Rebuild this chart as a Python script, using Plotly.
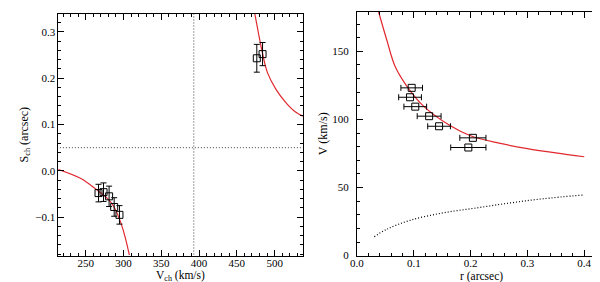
import plotly.graph_objects as go

# ---- Left panel data ----
v_ch = [267, 273.6, 281, 287.7, 294.7, 476.4, 484]
s_ch = [-0.048, -0.046, -0.055, -0.078, -0.095, 0.243, 0.252]
s_err = [0.019, 0.02, 0.022, 0.02, 0.02, 0.03, 0.025]

model_low_v = [212.3, 243, 264.8, 278, 286.8, 295.6, 302.2, 307.8]
model_low_s = [0.004, -0.016, -0.041, -0.0585, -0.076, -0.108, -0.143, -0.182]
model_up_v = [473.8, 478.6, 483.9, 490.5, 501.4, 514.5, 527.7, 538.7]
model_up_s = [0.339, 0.297, 0.254, 0.212, 0.177, 0.148, 0.127, 0.117]

v_sys = 393
s_zero = 0.05

# ---- Right panel data ----
r_pts = [0.0963, 0.0934, 0.1026, 0.127, 0.1445, 0.204, 0.196]
v_pts = [123.2, 116.3, 109.4, 102.4, 95.0, 86.5, 79.4]
r_err = [0.019, 0.02, 0.02, 0.021, 0.02, 0.023, 0.031]

kep_r = [0.038, 0.0527, 0.0672, 0.0876, 0.1166, 0.163, 0.2, 0.25, 0.3, 0.35, 0.4]
kep_v = [179.1, 158, 138.8, 124.5, 110, 95.7, 88.0, 82.6, 78.6, 75.4, 72.6]

dot_r = [0.0305, 0.0527, 0.0934, 0.1515, 0.21, 0.268, 0.326, 0.4]
dot_v = [13.9, 19.4, 25.9, 31.4, 35.0, 38.6, 41.7, 44.6]

x_titles = ["V<sub>ch</sub> (km/s)", "r (arcsec)"]

RED = "#e0282e"
FONT = "Liberation Serif"
DOTS = "1px,2px"

fig = go.Figure()

# left panel
fig.add_trace(go.Scatter(x=[v_sys, v_sys], y=[-0.2, 0.36], mode="lines",
                         line=dict(color="#444", width=1, dash=DOTS),
                         xaxis="x", yaxis="y", showlegend=False))
fig.add_trace(go.Scatter(x=[200, 550], y=[s_zero, s_zero], mode="lines",
                         line=dict(color="#444", width=1, dash=DOTS),
                         xaxis="x", yaxis="y", showlegend=False))
fig.add_trace(go.Scatter(x=model_low_v, y=model_low_s, mode="lines",
                         line=dict(color=RED, width=1.2, shape="spline"),
                         xaxis="x", yaxis="y", showlegend=False))
fig.add_trace(go.Scatter(x=model_up_v, y=model_up_s, mode="lines",
                         line=dict(color=RED, width=1.2, shape="spline"),
                         xaxis="x", yaxis="y", showlegend=False))
fig.add_trace(go.Scatter(x=v_ch, y=s_ch, mode="markers",
                         marker=dict(symbol="square-open", size=7, color="black",
                                     line=dict(width=1, color="black")),
                         error_y=dict(type="data", array=s_err, color="black",
                                      thickness=1, width=3),
                         xaxis="x", yaxis="y", showlegend=False))

# right panel
fig.add_trace(go.Scatter(x=kep_r, y=kep_v, mode="lines",
                         line=dict(color=RED, width=1.2, shape="spline"),
                         xaxis="x2", yaxis="y2", showlegend=False))
fig.add_trace(go.Scatter(x=dot_r, y=dot_v, mode="lines",
                         line=dict(color="black", width=1.2, dash=DOTS, shape="spline"),
                         xaxis="x2", yaxis="y2", showlegend=False))
fig.add_trace(go.Scatter(x=r_pts, y=v_pts, mode="markers",
                         marker=dict(symbol="square-open", size=7, color="black",
                                     line=dict(width=1, color="black")),
                         error_x=dict(type="data", array=r_err, color="black",
                                      thickness=1, width=3),
                         xaxis="x2", yaxis="y2", showlegend=False))

axis_common = dict(showgrid=False, zeroline=False, showline=True, linecolor="black",
                   linewidth=1, mirror="allticks", ticks="inside", ticklen=6,
                   tickcolor="black", tickfont=dict(family=FONT, size=11, color="black"))

fig.update_layout(
    width=600, height=282,
    margin=dict(l=0, r=0, t=0, b=0),
    paper_bgcolor="white", plot_bgcolor="white",
    font=dict(family=FONT, size=12, color="black"),
    xaxis=dict(domain=[0.0733, 0.485], range=[214, 537], anchor="y",
               dtick=50, tick0=0, ticklabelstandoff=-3,
               minor=dict(ticks="inside", ticklen=3, dtick=10, tickcolor="black"),
               **axis_common),
    yaxis=dict(domain=[0.1028, 0.979], range=[-0.183, 0.339], anchor="x",
               dtick=0.1, tick0=0, tickformat=".1f",
               minor=dict(ticks="inside", ticklen=3, dtick=0.02, tickcolor="black"),
               title=dict(text="S<sub>ch</sub> (arcsec)", standoff=4,
                          font=dict(family=FONT, size=12)),
               **axis_common),
    xaxis2=dict(domain=[0.5767, 0.995], range=[0, 0.4366], anchor="y2",
                dtick=0.1, tick0=0, tickformat=".1f", ticklabelstandoff=-3,
                minor=dict(ticks="inside", ticklen=3, dtick=0.02, tickcolor="black"),
                **axis_common),
    yaxis2=dict(domain=[0.1028, 0.986], range=[0, 179], anchor="x2",
                dtick=50, tick0=0, ticklabelstandoff=5,
                minor=dict(ticks="inside", ticklen=3, dtick=10, tickcolor="black"),
                title=dict(text="V (km/s)", standoff=2,
                           font=dict(family=FONT, size=12)),
                **axis_common),
)

for ref, txt in zip(["x domain", "x2 domain"], x_titles):
    fig.add_annotation(text=txt, xref=ref, x=0.5, yref="paper", y=-0.003,
                       xanchor="center", yanchor="bottom", showarrow=False,
                       font=dict(family=FONT, size=11.5, color="black"))

fig.write_html("out.html")
